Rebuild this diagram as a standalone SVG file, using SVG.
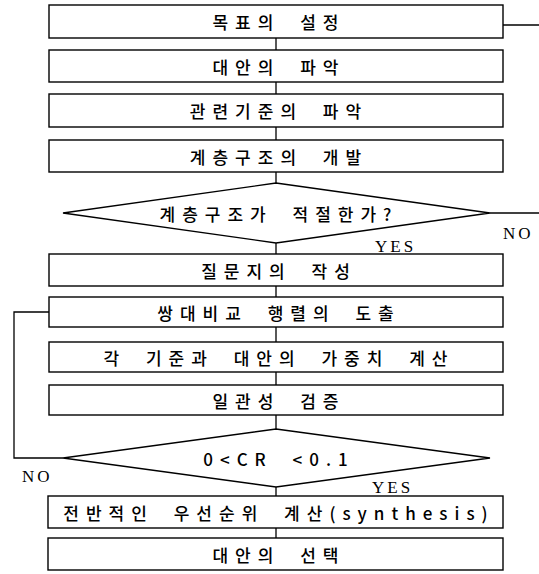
<svg xmlns="http://www.w3.org/2000/svg" width="539" height="574" viewBox="0 0 539 574">
<style>
.box{fill:#fff;stroke:#000;stroke-width:1.4}
.dia{fill:#fff;stroke:#000;stroke-width:1.3}
.ln{fill:none;stroke:#000;stroke-width:1.3}
.t{font-family:"Noto Sans CJK KR","Noto Sans",sans-serif;font-size:17px;font-weight:500;letter-spacing:7px;word-spacing:9px;text-anchor:middle;dominant-baseline:central;fill:#000}
.lbl{font-family:"Liberation Serif",serif;font-size:17px;letter-spacing:3px;fill:#000}
</style>
<rect width="539" height="574" fill="#fff"/>
<g id="connectors">
<path class="ln" d="M276 38V50M276 82V94M276 127V140M276 172V183M276 243V254M276 286V297M276 327V342M276 372V385M276 415V429M276 487V496M276 528V538"/>
<path class="ln" d="M503 25H539"/>
<path class="ln" d="M490 213H539"/>
<path class="ln" d="M63 458H14V312H49"/>
</g>
<g id="n1"><rect class="box" x="49" y="5" width="454" height="33"/><text class="t" x="279" y="21.5">목표의 설정</text></g>
<g id="n2"><rect class="box" x="49" y="50" width="454" height="32"/><text class="t" x="279" y="66">대안의 파악</text></g>
<g id="n3"><rect class="box" x="49" y="94" width="454" height="33"/><text class="t" x="279" y="110.5">관련기준의 파악</text></g>
<g id="n4"><rect class="box" x="49" y="140" width="454" height="32"/><text class="t" x="279" y="156">계층구조의 개발</text></g>
<g id="d1"><polygon class="dia" points="276,183 490,213 276,243 63,213"/><text class="t" x="279" y="213">계층구조가 적절한가?</text>
<text class="lbl" x="375" y="252">YES</text><text class="lbl" x="503" y="239">NO</text></g>
<g id="n5"><rect class="box" x="49" y="254" width="454" height="32"/><text class="t" x="279" y="270">질문지의 작성</text></g>
<g id="n6"><rect class="box" x="49" y="297" width="454" height="30"/><text class="t" x="279" y="312">쌍대비교 행렬의 도출</text></g>
<g id="n7"><rect class="box" x="49" y="342" width="454" height="30"/><text class="t" x="279" y="357">각 기준과 대안의 가중치 계산</text></g>
<g id="n8"><rect class="box" x="49" y="385" width="454" height="30"/><text class="t" x="279" y="400">일관성 검증</text></g>
<g id="d2"><polygon class="dia" points="276,429 490,458 276,487 63,458"/><text class="t" x="279" y="458">0&lt;CR &lt;0.1</text>
<text class="lbl" x="372" y="493">YES</text><text class="lbl" x="22" y="482">NO</text></g>
<g id="n9"><rect class="box" x="48" y="496" width="455" height="32"/><text class="t" x="279" y="512">전반적인 우선순위 계산(synthesis)</text></g>
<g id="n10"><rect class="box" x="48" y="538" width="455" height="32"/><text class="t" x="279" y="554">대안의 선택</text></g>
</svg>
